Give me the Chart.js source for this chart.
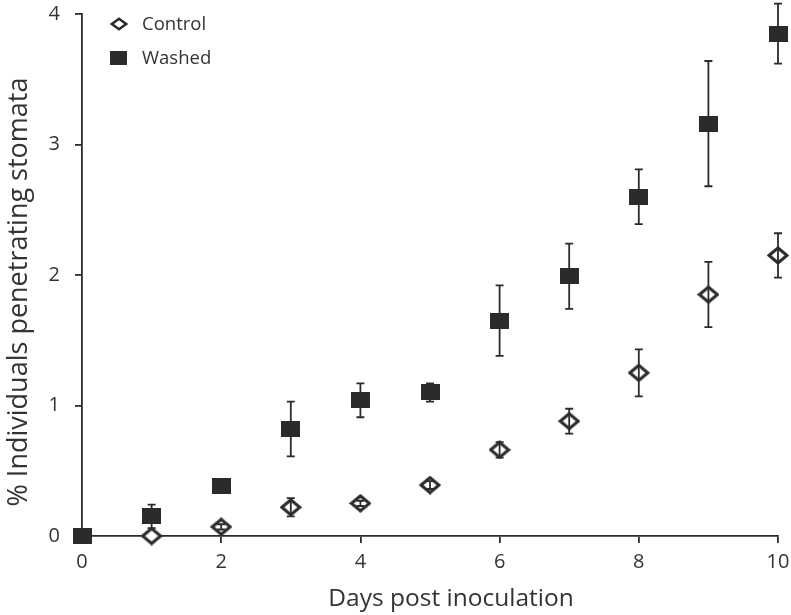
<!DOCTYPE html>
<html>
<head>
<meta charset="utf-8">
<script src="https://cdn.jsdelivr.net/npm/chart.js@4/dist/chart.umd.min.js"></script>
<style>
	html, body { margin: 0; padding: 0; background: #fff; }
	#wrap { width: 791px; height: 615px; }
</style>
</head>
<body>
<div id="wrap"><canvas id="stomataChart" width="791" height="615"></canvas></div>
<script>
// values
var days = [0, 1, 2, 3, 4, 5, 6, 7, 8, 9, 10];
var controlDays = [1, 2, 3, 4, 5, 6, 7, 8, 9, 10];
var controlMean = [0.0, 0.07, 0.22, 0.25, 0.39, 0.66, 0.88, 1.25, 1.85, 2.15];
var controlErr = [0.0, 0.02, 0.07, 0.02, 0.03, 0.06, 0.095, 0.18, 0.25, 0.17];
var washedMean = [0.0, 0.15, 0.38, 0.82, 1.04, 1.10, 1.65, 1.99, 2.60, 3.16, 3.85];
var washedErr = [0.0, 0.09, 0.0, 0.21, 0.13, 0.07, 0.27, 0.25, 0.21, 0.48, 0.23];
var xTicks = [0, 2, 4, 6, 8, 10];
var yTicks = [0, 1, 2, 3, 4];

var ink = '#2b2b2b';
var textCol = '#333333';
var fontName = "'Open Sans', 'Noto Sans', sans-serif";

function makeSquare(w, h) {
	var c = document.createElement('canvas');
	c.width = w;
	c.height = h;
	var g = c.getContext('2d');
	g.fillStyle = ink;
	g.fillRect(0, 0, w, h);
	return c;
}

function makeDiamond(w, h, lw) {
	var c = document.createElement('canvas');
	c.width = w;
	c.height = h;
	var g = c.getContext('2d');
	var m = lw / 2 + 0.5;
	g.beginPath();
	g.moveTo(m, h / 2);
	g.lineTo(w / 2, m);
	g.lineTo(w - m, h / 2);
	g.lineTo(w / 2, h - m);
	g.closePath();
	g.fillStyle = '#fff';
	g.fill();
	g.lineWidth = lw;
	g.strokeStyle = ink;
	g.stroke();
	return c;
}

var squareImg = makeSquare(19, 16);
var diamondImg = makeDiamond(22, 19, 3);
var squareSmall = makeSquare(17, 14);
var diamondSmall = makeDiamond(18, 14, 2.6);

function toPoints(xs, ys) {
	var pts = [];
	for (var i = 0; i < xs.length; i++) {
		pts.push({ x: xs[i], y: ys[i] });
	}
	return pts;
}

// error bars are drawn over the markers, like in the figure
var errorBars = {
	id: 'errorBars',
	afterDatasetsDraw: function (chart) {
		var ctx = chart.ctx;
		var xs = chart.scales.x;
		var ys = chart.scales.y;
		var sets = [
			{ xv: controlDays, m: controlMean, e: controlErr },
			{ xv: days, m: washedMean, e: washedErr }
		];
		ctx.save();
		ctx.strokeStyle = ink;
		ctx.lineWidth = 1.8;
		for (var s = 0; s < sets.length; s++) {
			for (var i = 0; i < sets[s].xv.length; i++) {
				if (sets[s].e[i] <= 0) continue;
				var px = xs.getPixelForValue(sets[s].xv[i]);
				var top = ys.getPixelForValue(sets[s].m[i] + sets[s].e[i]);
				var bot = ys.getPixelForValue(sets[s].m[i] - sets[s].e[i]);
				ctx.beginPath();
				ctx.moveTo(px, top);
				ctx.lineTo(px, bot);
				ctx.moveTo(px - 4, top);
				ctx.lineTo(px + 4, top);
				ctx.moveTo(px - 4, bot);
				ctx.lineTo(px + 4, bot);
				ctx.stroke();
			}
		}
		ctx.restore();
	}
};

// legend in the top left corner plus axis titles
var extras = {
	id: 'extras',
	afterDraw: function (chart) {
		var ctx = chart.ctx;
		ctx.save();
		ctx.fillStyle = textCol;
		ctx.textBaseline = 'alphabetic';

		ctx.drawImage(diamondSmall, 110, 17);
		ctx.drawImage(squareSmall, 110, 51);
		ctx.font = '18.5px ' + fontName;
		ctx.textAlign = 'left';
		ctx.fillText('Control', 142, 30);
		ctx.fillText('Washed', 142, 64);

		ctx.font = '24.5px ' + fontName;
		ctx.textAlign = 'center';
		ctx.fillText('Days post inoculation', 451, 606);

		ctx.font = '27px ' + fontName;
		ctx.translate(27, 292);
		ctx.rotate(-Math.PI / 2);
		ctx.fillText('% Individuals penetrating stomata', 0, 0);
		ctx.restore();
	}
};

var ctx = document.getElementById('stomataChart');
var stomataChart = new Chart(ctx, {
	type: 'scatter',
	data: {
		datasets: [{
			label: 'Control',
			data: toPoints(controlDays, controlMean),
			pointStyle: diamondImg,
			clip: false
		}, {
			label: 'Washed',
			data: toPoints(days, washedMean),
			pointStyle: squareImg,
			clip: false
		}]
	},
	options: {
		responsive: false,
		animation: false,
		layout: { padding: 0 },
		plugins: {
			legend: { display: false },
			tooltip: { enabled: false }
		},
		scales: {
			x: {
				type: 'linear',
				min: 0,
				max: 10,
				afterBuildTicks: function (scale) {
					scale.ticks = xTicks.map(function (v) { return { value: v }; });
				},
				afterFit: function (scale) {
					scale.height = 79;
					scale.paddingLeft = 0;
					scale.paddingRight = 13;
				},
				grid: { drawOnChartArea: false, drawTicks: true, tickLength: 7, color: ink, lineWidth: 1.8 },
				border: { display: true, color: ink, width: 1.8 },
				ticks: { color: textCol, padding: 7, font: { family: fontName, size: 20 }, maxRotation: 0 }
			},
			y: {
				type: 'linear',
				min: 0,
				max: 4,
				afterBuildTicks: function (scale) {
					scale.ticks = yTicks.map(function (v) { return { value: v }; });
				},
				afterFit: function (scale) {
					scale.width = 82;
					scale.paddingTop = 14;
					scale.paddingBottom = 0;
				},
				grid: { drawOnChartArea: false, drawTicks: true, tickLength: 7, color: ink, lineWidth: 1.8 },
				border: { display: true, color: ink, width: 1.8 },
				ticks: { color: textCol, padding: 15, font: { family: fontName, size: 20 } }
			}
		}
	},
	plugins: [errorBars, extras]
});
</script>
</body>
</html>
